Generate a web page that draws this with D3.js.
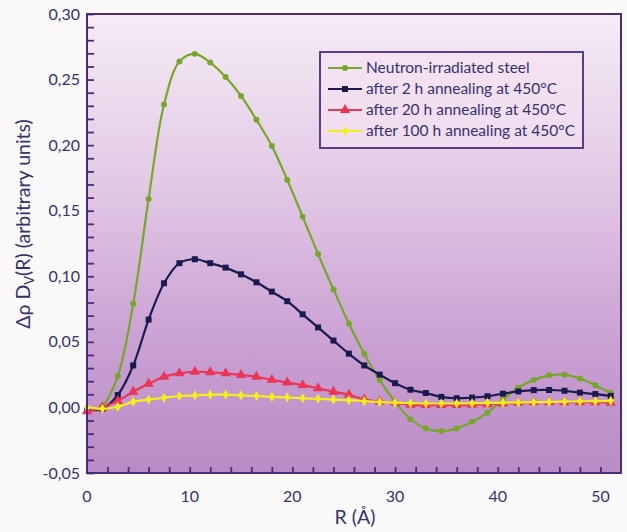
<!DOCTYPE html>
<html>
<head>
<meta charset="utf-8">
<script src="https://cdn.jsdelivr.net/npm/d3@7/dist/d3.min.js"></script>
<style>
  html, body { margin: 0; padding: 0; background: #fbf8fa; }
  svg { display: block; }
  text { font-family: Lato, "Open Sans", sans-serif; fill: #35336e; }
</style>
</head>
<body>
<svg id="chart" width="627" height="532"></svg>
<script>
// Radius grid (Å)
const radius = [0, 1.5, 3, 4.5, 6, 7.5, 9, 10.5, 12, 13.5, 15, 16.5, 18, 19.5, 21, 22.5, 24,
  25.5, 27, 28.5, 30, 31.5, 33, 34.5, 36, 37.5, 39, 40.5, 42, 43.5, 45, 46.5, 48, 49.5, 51];

// Δρ·Dv(R) for each sample state
const irradiated = [-0.003, 0.001, 0.024, 0.079, 0.159, 0.231, 0.2637, 0.2696, 0.263, 0.252,
  0.2375, 0.2193, 0.1994, 0.1735, 0.1455, 0.117, 0.090, 0.064, 0.041, 0.021, 0.004, -0.009,
  -0.016, -0.018, -0.016, -0.011, -0.004, 0.006, 0.015, 0.021, 0.0245, 0.025, 0.022, 0.017, 0.011];
const anneal2h = [-0.002, -0.001, 0.0095, 0.032, 0.067, 0.0947, 0.110, 0.113, 0.110, 0.1066,
  0.1015, 0.0954, 0.0883, 0.081, 0.071, 0.061, 0.051, 0.041, 0.032, 0.025, 0.0185, 0.0135,
  0.011, 0.008, 0.007, 0.0075, 0.0085, 0.0105, 0.0122, 0.0132, 0.0133, 0.0127, 0.0113, 0.0102, 0.0088];
const anneal20h = [-0.003, 0.000, 0.005, 0.012, 0.018, 0.0234, 0.026, 0.0272, 0.0268, 0.026,
  0.0247, 0.0234, 0.021, 0.019, 0.017, 0.0146, 0.012, 0.0098, 0.006, 0.0045, 0.0035, 0.002,
  0.0018, 0.0018, 0.0018, 0.002, 0.0025, 0.003, 0.0035, 0.004, 0.004, 0.004, 0.004, 0.004, 0.0036];
const anneal100h = [0.000, -0.001, 0.0005, 0.0044, 0.006, 0.0074, 0.0087, 0.0092, 0.0097, 0.0097,
  0.0092, 0.0087, 0.008, 0.0077, 0.007, 0.0066, 0.006, 0.0055, 0.0048, 0.0042, 0.0036, 0.0032,
  0.003, 0.003, 0.003, 0.0032, 0.0034, 0.0036, 0.0038, 0.004, 0.0042, 0.0044, 0.0046, 0.0048, 0.005];

const seriesNames = ["Neutron-irradiated steel", "after 2 h annealing at 450\u00B0C",
  "after 20 h annealing at 450\u00B0C", "after 100 h annealing at 450\u00B0C"];

const xTickLabels = [0, 10, 20, 30, 40, 50];
const yTickLabels = [-0.05, 0, 0.05, 0.10, 0.15, 0.20, 0.25, 0.30];

const series = [
  { name: seriesNames[0], values: irradiated, color: "#78a62a", symbol: d3.symbolCircle, size: 28 },
  { name: seriesNames[1], values: anneal2h, color: "#1b1a4f", symbol: d3.symbolSquare, size: 36 },
  { name: seriesNames[2], values: anneal20h, color: "#ea3556", symbol: d3.symbolTriangle, size: 46 },
  { name: seriesNames[3], values: anneal100h, color: "#f4ee1e", symbol: d3.symbolDiamond, size: 30 }
];

const svg = d3.select("#chart");
const plotLeft = 87, plotRight = 621, plotTop = 14, plotBottom = 473;

const x = d3.scaleLinear().domain([0, 52]).range([plotLeft, plotRight]);
const y = d3.scaleLinear().domain([-0.05, 0.30]).range([plotBottom, plotTop]);

// Plot background gradient
const defs = svg.append("defs");
const grad = defs.append("linearGradient").attr("id", "bg").attr("x1", 0).attr("y1", 0).attr("x2", 0).attr("y2", 1);
grad.append("stop").attr("offset", "0%").attr("stop-color", "#f5ecf5");
grad.append("stop").attr("offset", "35%").attr("stop-color", "#e3cbe6");
grad.append("stop").attr("offset", "70%").attr("stop-color", "#cba2d4");
grad.append("stop").attr("offset", "100%").attr("stop-color", "#b98bc4");

svg.append("rect")
  .attr("x", plotLeft).attr("y", plotTop)
  .attr("width", plotRight - plotLeft).attr("height", plotBottom - plotTop)
  .attr("fill", "url(#bg)");

// Ticks (inward)
const frameColor = "#4a2c7c";
const yAxis = svg.append("g").attr("transform", `translate(${plotLeft},0)`)
  .call(d3.axisLeft(y).tickValues(d3.range(-5, 31).map(v => v / 100)).tickSize(-7).tickFormat(""));
const xAxis = svg.append("g").attr("transform", `translate(0,${plotBottom})`)
  .call(d3.axisBottom(x).tickValues(d3.range(2, 52, 2)).tickSize(-6).tickFormat(""));
[yAxis, xAxis].forEach(g => {
  g.select(".domain").remove();
  g.selectAll(".tick line").attr("stroke", frameColor).attr("stroke-width", 1.8);
});

// Tick labels
const fmt = v => d3.format(".2f")(v).replace(".", ",").replace("\u2212", "-");
svg.append("g").selectAll("text").data(yTickLabels).join("text")
  .attr("x", plotLeft - 7).attr("y", d => y(d)).attr("dy", "0.35em")
  .attr("text-anchor", "end").attr("font-size", 16)
  .text(fmt);
svg.append("g").selectAll("text").data(xTickLabels).join("text")
  .attr("x", d => x(d)).attr("y", plotBottom + 29)
  .attr("text-anchor", "middle").attr("font-size", 16)
  .text(d => d);

// Curves and markers, drawn in legend order
const line = d3.line().x(d => x(d[0])).y(d => y(d[1])).curve(d3.curveCatmullRom.alpha(0.5));
const plot = svg.append("g");
series.forEach(s => {
  const pts = radius.map((r, i) => [r, s.values[i]]);
  plot.append("path").datum(pts)
    .attr("d", line).attr("fill", "none")
    .attr("stroke", s.color).attr("stroke-width", 2.2);
  plot.append("g").selectAll("path").data(pts).join("path")
    .attr("transform", d => `translate(${x(d[0])},${y(d[1])})`)
    .attr("d", d3.symbol().type(s.symbol).size(s.size))
    .attr("fill", s.color);
});

// Frame
svg.append("rect")
  .attr("x", plotLeft).attr("y", plotTop)
  .attr("width", plotRight - plotLeft).attr("height", plotBottom - plotTop)
  .attr("fill", "none").attr("stroke", frameColor).attr("stroke-width", 2);

// Legend
const lg = svg.append("g");
lg.append("rect").attr("x", 320).attr("y", 52).attr("width", 263).attr("height", 96)
  .attr("fill", "rgba(246,226,244,0.6)").attr("stroke", frameColor).attr("stroke-width", 1.8);
series.forEach((s, i) => {
  const cy = 68 + i * 21;
  lg.append("line").attr("x1", 328).attr("x2", 362).attr("y1", cy).attr("y2", cy)
    .attr("stroke", s.color).attr("stroke-width", 2.2);
  lg.append("path").attr("transform", `translate(345,${cy})`)
    .attr("d", d3.symbol().type(s.symbol).size(s.size)).attr("fill", s.color);
  lg.append("text").attr("x", 366).attr("y", cy).attr("dy", "0.35em")
    .attr("font-size", 15.5).text(s.name);
});

// Axis titles
const yt = svg.append("text")
  .attr("transform", "translate(30,224) rotate(-90)")
  .attr("text-anchor", "middle").attr("font-size", 19.5);
yt.append("tspan").text("\u0394\u03C1 D");
yt.append("tspan").attr("font-size", 13).attr("dy", 4).text("V");
yt.append("tspan").attr("dy", -4).text("(R) (arbitrary units)");

svg.append("text").attr("x", 355).attr("y", 524)
  .attr("text-anchor", "middle").attr("font-size", 19.5).text("R (\u00C5)");
</script>
</body>
</html>
